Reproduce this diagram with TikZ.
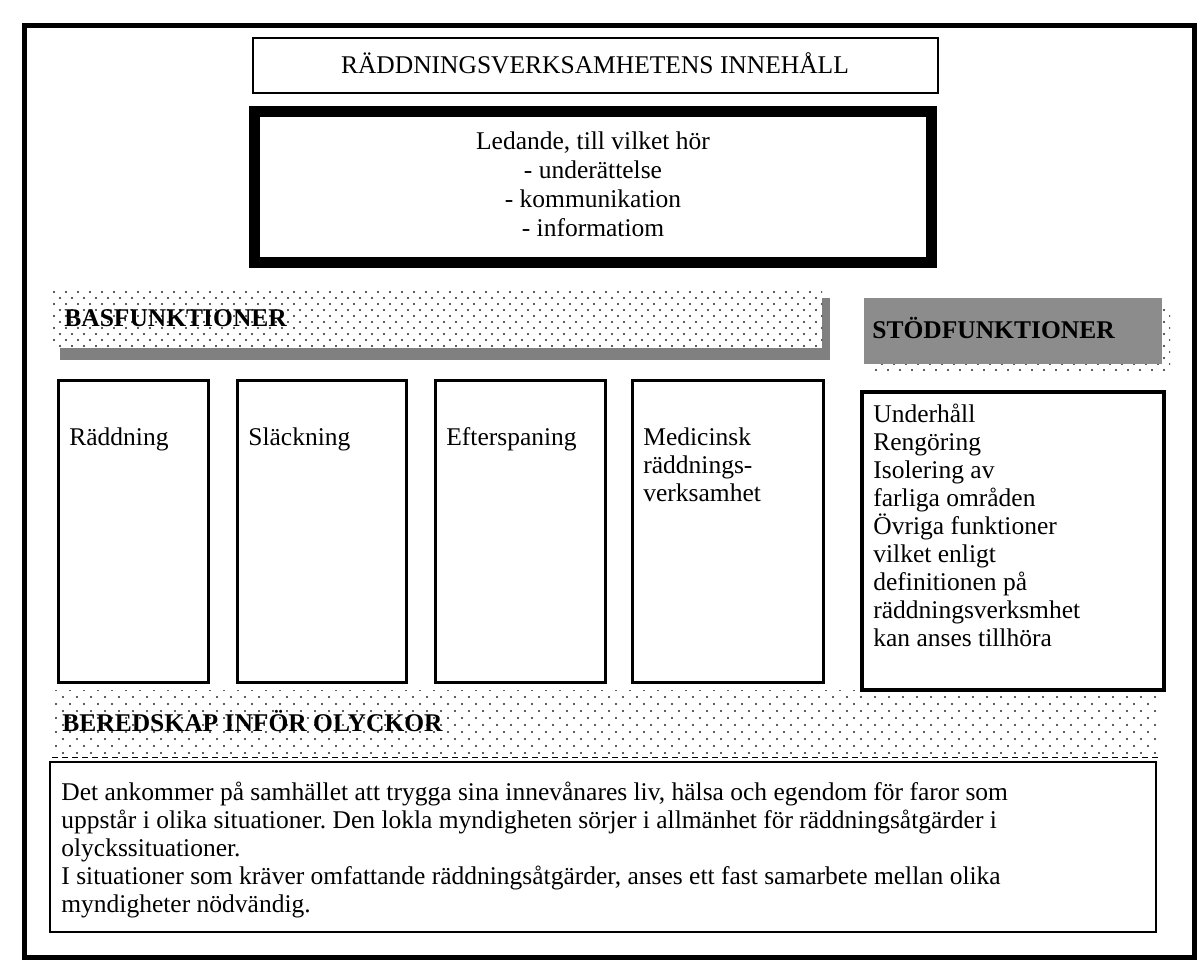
\documentclass[tikz,border=0pt]{standalone}
\usepackage{fontspec}
\setmainfont{Liberation Serif}
\usetikzlibrary{patterns.meta}
\frenchspacing

\begin{document}
\begin{tikzpicture}[x=0.5pt,y=-0.5pt,
  every node/.style={font=\fontsize{12.75}{14}\selectfont, inner sep=0pt},
  frame/.style={draw, line width=2.5pt},
  titlebox/.style={draw, line width=1pt},
  leadbox/.style={draw, line width=5.5pt},
  funcbox/.style={draw, line width=1.5pt},
  infobox/.style={draw, line width=1.2pt},
  head/.style={font=\fontsize{12.75}{14}\selectfont\bfseries, anchor=base west},
  boxtext/.style={anchor=base west},
  basdots/.style={pattern={Dots[distance=6pt,radius=.6pt]}, pattern color=black!85,
    postaction={pattern={Dots[distance=6pt,radius=.6pt,xshift=3pt,yshift=3pt]}, pattern color=black!85}},
  beredots/.style={pattern={Dots[distance=7pt,radius=.55pt]}, pattern color=black!85,
    postaction={pattern={Dots[distance=7pt,radius=.55pt,xshift=3.5pt,yshift=3.5pt]}, pattern color=black!85}}
]
\useasboundingbox (0,0) rectangle (1200,970);

% outer frame
\draw[frame] (24,25) rectangle (1194,957);

% heading and leading
\draw[titlebox] (253,38) rectangle (938,93);
\node[anchor=base] (title) at (595,73) {RÄDDNINGSVERKSAMHETENS INNEHÅLL};
\draw[leadbox] (254.5,111.5) rectangle (931.5,262.5);
\foreach \t [count=\i from 0] in {{Ledande, till vilket hör}, - underättelse, - kommunikation, - informatiom}
  \node[anchor=base] (lead\i) at (593,149+29*\i) {\t};

% basfunktioner band
\fill[black!50] (60,298) rectangle (830,360);
\path[basdots, preaction={fill=white}] (52,288) rectangle (822,348);
\node[head] (bashead) at (64,326) {BASFUNKTIONER};

% stodfunktioner band
\path[basdots] (872,306) rectangle (1170,374);
\fill[black!45] (864,298) rectangle (1162,364);
\node[head] (stodhead) at (872,338) {STÖDFUNKTIONER};

% beredskap band
\path[beredots] (52,690) rectangle (1160,757);
\draw[line width=.5pt, dash pattern=on 3pt off 2pt] (52,757) -- (1160,757);
\node[head] (berhead) at (62,731) {BEREDSKAP INFÖR OLYCKOR};

% function boxes
\draw[funcbox] (58,380) rectangle (208,682);
\draw[funcbox] (237,380) rectangle (406,682);
\draw[funcbox] (435,380) rectangle (605,682);
\draw[funcbox] (632,380) rectangle (823,682);
\node[boxtext] (raddning) at (69,445) {Räddning};
\node[boxtext] (slackning) at (248,445) {Släckning};
\node[boxtext] (efterspaning) at (446,445) {Efterspaning};
\foreach \t [count=\i from 0] in {Medicinsk, räddnings-, verksamhet}
  \node[boxtext] (med\i) at (643,445+28*\i) {\t};

\draw[funcbox, line width=1.8pt] (862,392) rectangle (1164,690);
\foreach \t [count=\i from 0] in {Underhåll, Rengöring, Isolering av, farliga områden, Övriga funktioner, vilket enligt, definitionen på, räddningsverksmhet, kan anses tillhöra}
  \node[boxtext] (stod\i) at (873,422+28*\i) {\t};

% beredskap text
\draw[infobox] (50,762) rectangle (1156,932);
\foreach \t [count=\i from 0] in {Det ankommer på samhället att trygga sina innevånares liv{,} hälsa och egendom för faror som,
  uppstår i olika situationer. Den lokla myndigheten sörjer i allmänhet för räddningsåtgärder i,
  olyckssituationer.,
  I situationer som kräver omfattande räddningsåtgärder{,} anses ett fast samarbete mellan olika,
  myndigheter nödvändig.}
  \node[boxtext] (ber\i) at (61,800+28*\i) {\t};

\end{tikzpicture}
\end{document}
